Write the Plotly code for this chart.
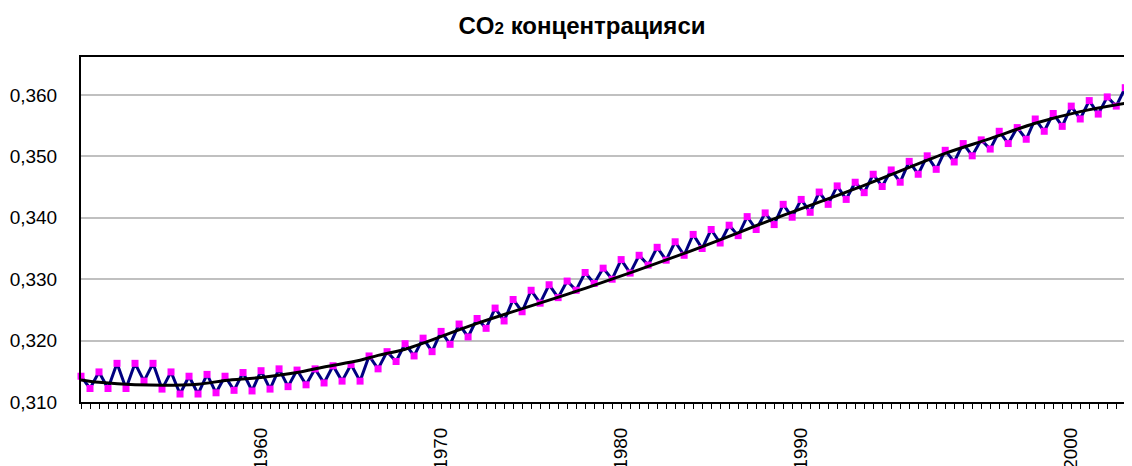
import plotly.graph_objects as go

# Category positions (one point per half-year step) and labels
year_labels = {20: "1960", 40: "1970", 60: "1980", 80: "1990", 110: "2000"}

co2 = [
    0.3142, 0.3122, 0.3149, 0.3122, 0.3163, 0.3122, 0.3163, 0.3134, 0.3163, 0.3121,
    0.3149, 0.3113, 0.3142, 0.3113, 0.3145, 0.3115, 0.3142, 0.3119, 0.3148, 0.3118,
    0.3151, 0.3121, 0.3154, 0.3125, 0.3152, 0.3128, 0.3154, 0.3131, 0.3159, 0.3134,
    0.3161, 0.3134, 0.3175, 0.3154, 0.3182, 0.3166, 0.3195, 0.3175, 0.3204, 0.3182,
    0.3215, 0.3194, 0.3227, 0.3206, 0.3236, 0.3220, 0.3253, 0.3232, 0.3267, 0.3247,
    0.3282, 0.3261, 0.3291, 0.3270, 0.3297, 0.3282, 0.3311, 0.3293, 0.3318, 0.3300,
    0.3332, 0.3310, 0.3339, 0.3323, 0.3352, 0.3331, 0.3361, 0.3339, 0.3373, 0.3350,
    0.3381, 0.3359, 0.3388, 0.3371, 0.3402, 0.3381, 0.3408, 0.3389, 0.3422, 0.3401,
    0.3430, 0.3409, 0.3442, 0.3422, 0.3452, 0.3430, 0.3458, 0.3441, 0.3471, 0.3451,
    0.3478, 0.3458, 0.3492, 0.3471, 0.3501, 0.3479, 0.3510, 0.3491, 0.3521, 0.3501,
    0.3527, 0.3512, 0.3541, 0.3521, 0.3547, 0.3528, 0.3561, 0.3541, 0.3570, 0.3549,
    0.3582, 0.3561, 0.3591, 0.3569, 0.3597, 0.3582, 0.3612, 0.3595,
]

trend_idx = [0, 2, 6, 13, 16, 20, 24, 27, 31, 33, 36, 44, 56, 67, 78, 87, 96, 101, 106, 111, 117]
trend_val = [0.3136, 0.3132, 0.3128, 0.3129, 0.3135, 0.3140, 0.3148, 0.3157, 0.3168, 0.3176,
             0.3186, 0.3228, 0.3285, 0.3342, 0.3404, 0.3453, 0.3505, 0.3529, 0.3554, 0.3573, 0.3589]

y_ticks = [0.310, 0.320, 0.330, 0.340, 0.350, 0.360]

idx = list(range(len(co2)))
tick_text = [year_labels.get(i, "") for i in idx]

W, H = 1124, 458  # page body has an 8px margin

fig = go.Figure()
fig.add_trace(go.Scatter(
    x=idx, y=co2, mode="lines+markers",
    line=dict(color="#000080", width=3),
    marker=dict(symbol="square", color="#FF00FF", size=7, line=dict(width=0)),
    cliponaxis=False, showlegend=False,
))
fig.add_trace(go.Scatter(
    x=trend_idx, y=trend_val, mode="lines",
    line=dict(color="#000000", width=3, shape="spline", smoothing=1.0),
    showlegend=False,
))

fig.update_layout(
    width=W, height=H,
    margin=dict(l=73, r=0, t=49, b=64),
    paper_bgcolor="white", plot_bgcolor="white",
    separators=", ",
    font=dict(family="Liberation Sans, Arial, sans-serif", color="black", size=19),
    title=dict(
        text="CO<span style='font-size:17px'>2</span> концентрацияси",
        font=dict(family="Liberation Sans, Arial, sans-serif", size=24, color="black", weight="bold"),
        xref="container", x=574 / W, xanchor="center",
        yref="container", y=1 - 18 / H, yanchor="middle",
    ),
    xaxis=dict(
        range=[0, 116.75],
        tickmode="array", tickvals=idx, ticktext=tick_text,
        tickangle=-90,
        ticks="outside", ticklen=5, tickwidth=1, tickcolor="black",
        showline=True, linecolor="black", linewidth=2, mirror=True,
        showgrid=False, zeroline=False,
        ticklabelstandoff=11,
        tickfont=dict(size=19),
        automargin=False,
    ),
    yaxis=dict(
        range=[0.310, 0.3662],
        tickmode="array", tickvals=y_ticks, tickformat=".3f",
        ticks="", showline=True, linecolor="black", linewidth=2,
        showgrid=True, gridcolor="#C0C0C0", gridwidth=1.5,
        zeroline=False,
        ticklabelstandoff=18,
        tickfont=dict(size=19),
        automargin=False,
    ),
)

fig.write_html("out.html")
